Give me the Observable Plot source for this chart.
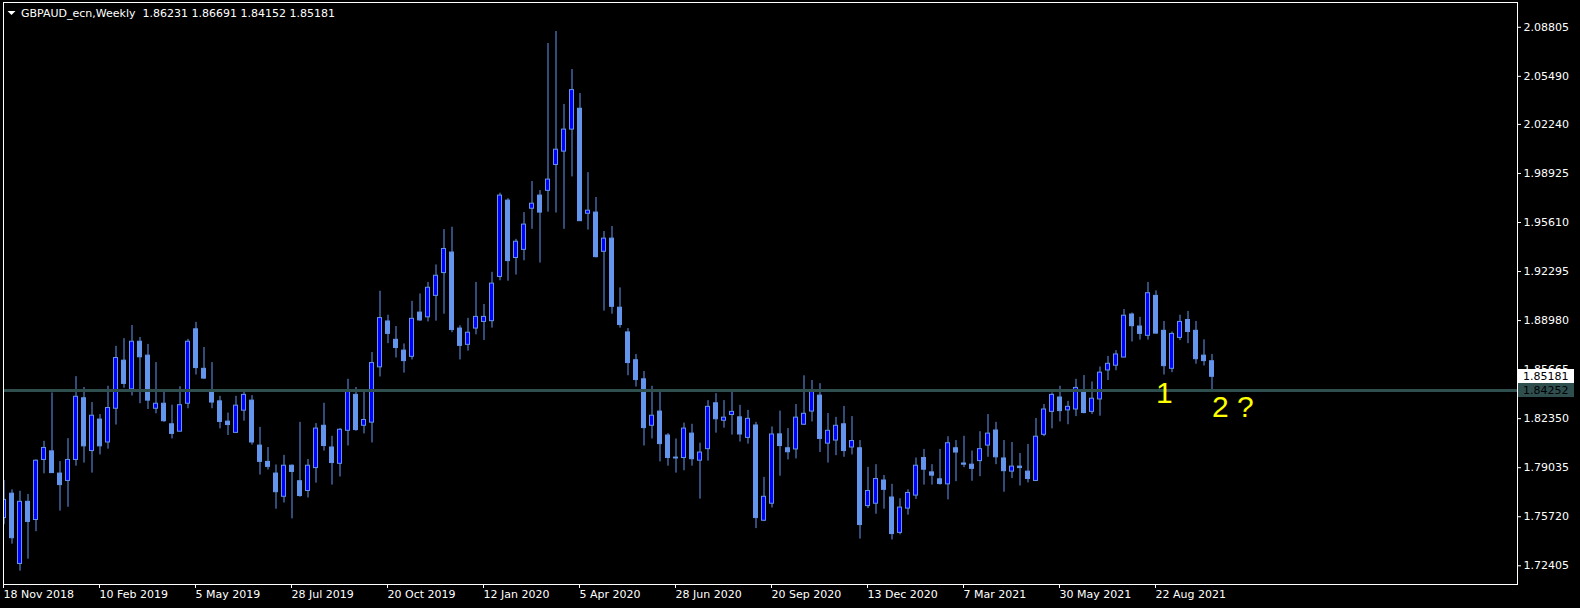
<!DOCTYPE html>
<html>
<head>
<meta charset="utf-8">
<script src="https://cdn.jsdelivr.net/npm/d3@7"></script>
<script src="https://cdn.jsdelivr.net/npm/@observablehq/plot@0.6"></script>
<style>
html, body { margin: 0; padding: 0; background: #000; }
svg text { white-space: pre; }
</style>
</head>
<body>
<div id="chart"></div>
<script>
// ---------------- data ----------------
const symbolName = "GBPAUD_ecn";
const timeframe = "Weekly";
const firstWeek = "2018-11-18"; // weekly bars, one per week from this date

const openP = [
1.7563,1.7728,1.7253,1.7673,1.7550,1.7956,1.8014,1.7864,1.7814,1.7956,
1.8373,1.8016,1.8229,1.8074,1.8302,1.8627,1.8433,1.8755,1.8661,1.8302,
1.8336,1.8197,1.8147,1.8336,1.8839,1.8572,1.8412,1.8352,1.8215,1.8139,
1.8289,1.8357,1.8053,1.7943,1.7864,1.7707,1.7917,1.7812,1.7746,1.7901,
1.8187,1.8040,1.7930,1.8153,1.8396,1.8187,1.8208,1.8582,1.8892,1.8768,
1.8695,1.8653,1.8952,1.8920,1.9065,1.9219,1.9358,1.8844,1.8734,1.8844,
1.8889,1.8894,1.9193,1.9709,1.9321,1.9376,1.9654,1.9743,1.9775,1.9950,
2.0040,2.0189,2.0330,1.9620,1.9628,1.9363,1.9452,1.8985,1.8818,1.8630,
1.8501,1.8187,1.8283,1.8121,1.7972,1.7969,1.8134,1.7951,1.8029,1.8339,
1.8221,1.8260,1.8244,1.8105,1.8189,1.7545,1.7660,1.8129,1.8035,1.8027,
1.8194,1.8283,1.8391,1.8066,1.8087,1.8197,1.8040,1.8035,1.7644,1.7660,
1.7817,1.7702,1.7463,1.7627,1.7715,1.7969,1.7872,1.7825,1.7791,1.8035,
1.7932,1.7924,1.7948,1.8053,1.8155,1.7966,1.7877,1.7911,1.7877,1.7814,
1.8126,1.8281,1.8378,1.8291,1.8297,1.8412,1.8281,1.8365,1.8561,1.8593,
1.8648,1.8939,1.8858,1.8795,1.9065,1.8829,1.8572,1.8781,1.8902,1.8829,
1.8661,1.86231];
const highP = [
1.7817,1.7754,1.7744,1.7723,1.7956,1.8082,1.8409,1.7945,1.8100,1.8519,
1.8446,1.8344,1.8263,1.8454,1.8724,1.8776,1.8865,1.8784,1.8737,1.8614,
1.8415,1.8326,1.8451,1.8771,1.8886,1.8716,1.8614,1.8386,1.8273,1.8386,
1.8412,1.8391,1.8176,1.8040,1.7922,1.7987,1.7922,1.8210,1.7959,1.8202,
1.8339,1.8116,1.8168,1.8501,1.8446,1.8415,1.8682,1.9096,1.8934,1.8858,
1.8740,1.9028,1.9078,1.9156,1.9274,1.9513,1.9529,1.8863,1.8913,1.9156,
1.9007,1.9224,1.9759,1.9722,1.9447,1.9628,1.9838,1.9777,2.0771,2.0852,
2.0359,2.0595,2.0433,1.9898,1.9730,1.9500,1.9534,1.9119,1.8844,1.8669,
1.8554,1.8454,1.8412,1.8134,1.8098,1.8205,1.8197,1.8069,1.8357,1.8404,
1.8357,1.8415,1.8325,1.8291,1.8210,1.7838,1.8179,1.8286,1.8168,1.8331,
1.8525,1.8493,1.8472,1.8270,1.8244,1.8318,1.8249,1.8087,1.7906,1.7924,
1.7851,1.7791,1.7694,1.7754,1.7969,1.8027,1.7924,1.8027,1.8113,1.8087,
1.8116,1.8016,1.8147,1.8263,1.8210,1.8087,1.8074,1.8000,1.8061,1.8236,
1.8331,1.8409,1.8454,1.8352,1.8501,1.8527,1.8483,1.8584,1.8656,1.8695,
1.8973,1.8949,1.8920,1.9156,1.9099,1.8892,1.8821,1.8934,1.8960,1.8892,
1.8768,1.86691];
const lowP = [
1.7518,1.7387,1.7204,1.7285,1.7471,1.7862,1.7867,1.7610,1.7636,1.7914,
1.7935,1.7867,1.7990,1.8029,1.8192,1.8441,1.8388,1.8336,1.8297,1.8268,
1.8210,1.8098,1.8147,1.8302,1.8530,1.8501,1.8302,1.8166,1.8121,1.8139,
1.8218,1.8056,1.7854,1.7888,1.7623,1.7665,1.7558,1.7704,1.7699,1.7799,
1.8016,1.7786,1.7841,1.8050,1.8150,1.8132,1.8071,1.8517,1.8742,1.8645,
1.8543,1.8632,1.8892,1.8889,1.8894,1.8941,1.8816,1.8632,1.8692,1.8802,
1.8763,1.8847,1.9167,1.9164,1.9206,1.9302,1.9515,1.9287,1.9631,1.9625,
1.9515,1.9869,1.9570,1.9510,1.9321,1.8962,1.8941,1.8847,1.8525,1.8449,
1.8050,1.8098,1.7943,1.7914,1.7867,1.7883,1.7914,1.7691,1.7948,1.8137,
1.8171,1.8124,1.8077,1.8063,1.7492,1.7539,1.7631,1.7846,1.7956,1.7963,
1.8189,1.8213,1.8006,1.7935,1.7985,1.7974,1.7990,1.7421,1.7627,1.7589,
1.7623,1.7415,1.7450,1.7583,1.7689,1.7786,1.7786,1.7786,1.7686,1.7809,
1.7904,1.7812,1.7843,1.7974,1.7924,1.7738,1.7830,1.7780,1.7801,1.7812,
1.8113,1.8166,1.8213,1.8194,1.8249,1.8268,1.8263,1.8252,1.8493,1.8559,
1.8648,1.8753,1.8766,1.8766,1.8808,1.8530,1.8546,1.8763,1.8742,1.8603,
1.8591,1.84152];
const closeP = [
1.7686,1.7427,1.7673,1.7537,1.7951,1.8037,1.7867,1.7786,1.7956,1.8383,
1.8048,1.8255,1.8048,1.8307,1.8645,1.8470,1.8755,1.8650,1.8357,1.8336,
1.8218,1.8132,1.8326,1.8755,1.8577,1.8506,1.8344,1.8213,1.8192,1.8323,
1.8396,1.8074,1.7943,1.7909,1.7738,1.7917,1.7875,1.7712,1.7917,1.8168,
1.8050,1.7935,1.8160,1.8415,1.8158,1.8226,1.8611,1.8915,1.8808,1.8713,
1.8624,1.8910,1.8899,1.9120,1.9201,1.9382,1.8834,1.8727,1.8816,1.8923,
1.8923,1.9148,1.9743,1.9300,1.9431,1.9547,1.9688,1.9628,1.9851,2.0053,
2.0189,2.0456,1.9570,1.9641,1.9327,1.9452,1.8991,1.8868,1.8611,1.8496,
1.8171,1.8255,1.8063,1.7969,1.7966,1.8168,1.7961,1.8006,1.8315,1.8231,
1.8242,1.8281,1.8128,1.8234,1.7563,1.7707,1.8128,1.8050,1.8008,1.8242,
1.8268,1.8415,1.8098,1.8153,1.8187,1.8016,1.8084,1.7516,1.7746,1.7827,
1.7754,1.7455,1.7634,1.7733,1.7917,1.7890,1.7850,1.7793,1.8069,1.8006,
1.7924,1.7896,1.8029,1.8134,1.7974,1.7880,1.7911,1.7901,1.7827,1.8113,
1.8297,1.8396,1.8286,1.8315,1.8443,1.8273,1.8370,1.8546,1.8606,1.8669,
1.8931,1.8860,1.8808,1.9083,1.8810,1.8590,1.8808,1.8889,1.8821,1.8637,
1.8624,1.85181];

const priceTicks = [2.08805,2.05490,2.02240,1.98925,1.95610,1.92295,1.88980,1.85665,1.82350,1.79035,1.75720,1.72405];
const dateTicks = ["2018-11-18","2019-02-10","2019-05-05","2019-07-28","2019-10-20","2020-01-12",
                   "2020-04-05","2020-06-28","2020-09-20","2020-12-13","2021-03-07","2021-05-30","2021-08-22"];
const levelPrice = 1.84252;
const annotationLabels = ["1", "2 ?"];
const annotationDates = ["2021-08-22", "2021-10-10"];
const annotationPrices = [1.8405, 1.8314];

// ---------------- layout ----------------
const W = 1580, H = 608;
const frameL = 3, frameR = 1517, frameT = 2, frameB = 584;
const firstCenter = 3.5, pxPerWeek = 8;
const dayMs = 864e5;
const t0 = Date.parse(firstWeek);
const msPerPx = 7 * dayMs / pxPerWeek;
const halfBody = 2 * msPerPx;
const xDomain = [new Date(t0 - (firstCenter - frameL) * msPerPx), new Date(t0 + (frameR - firstCenter) * msPerPx)];
const yDomain = [1.71141, 2.10481];

const bullFill = "#0000FF", bearFill = "#6495ED", wickColor = "#6495ED";
const levelColor = "#2F4F4F";

const candles = openP.map((o, i) => ({
  date: new Date(t0 + i * 7 * dayMs), open: o, high: highP[i], low: lowP[i], close: closeP[i]
}));
const last = candles[candles.length - 1];
const f5 = d3.format(".5f");
const headerText = `${symbolName},${timeframe}  ${f5(last.open)} ${f5(last.high)} ${f5(last.low)} ${f5(last.close)}`;
const annots = annotationLabels.map((t, i) => ({label: t, date: new Date(annotationDates[i]), price: annotationPrices[i]}));
const tagValues = [last.close, levelPrice];
const tagBg = ["#FFFFFF", levelColor];

const flatDown = {
  draw(ctx, size) {
    const r = Math.sqrt(size / Math.PI);
    ctx.moveTo(-r, -r / 2); ctx.lineTo(r, -r / 2); ctx.lineTo(0, r / 2); ctx.closePath();
  }
};

const svg = Plot.plot({
  width: W, height: H,
  marginLeft: frameL, marginRight: W - frameR, marginTop: frameT, marginBottom: H - frameB,
  style: {background: "#000", color: "#fff", fontFamily: "DejaVu Sans", fontSize: "11px"},
  x: {type: "utc", domain: xDomain},
  y: {type: "linear", domain: yDomain},
  color: {type: "identity"},
  marks: [
    Plot.ruleX(candles, {x: "date", y1: "low", y2: "high", stroke: wickColor, strokeWidth: 1, clip: true}),
    Plot.rect(candles, {
      x1: d => new Date(+d.date - halfBody), x2: d => new Date(+d.date + halfBody),
      y1: "open", y2: "close",
      fill: d => d.close > d.open ? bullFill : bearFill,
      stroke: wickColor, strokeWidth: 1, clip: true
    }),
    Plot.ruleY([levelPrice], {stroke: levelColor, strokeWidth: 3}),
    Plot.frame({stroke: "#fff"}),
    Plot.axisY(priceTicks, {anchor: "right", tickSize: 3, tickPadding: 3, tickFormat: f5, stroke: "#fff", fill: "#fff"}),
    Plot.axisX(dateTicks.map(d => new Date(d)), {anchor: "bottom", tickSize: 4, tickPadding: 2, textAnchor: "start", dx: -0.5,
      tickFormat: d3.utcFormat("%-d %b %Y"), stroke: "#fff", fill: "#fff"}),
    Plot.text([headerText], {frameAnchor: "top-left", dx: 17.5, dy: 10.8, textAnchor: "start", lineAnchor: "middle", fill: "#fff"}),
    Plot.dot([0], {frameAnchor: "top-left", dx: 8, dy: 10.5, symbol: flatDown, r: 4, fill: "#fff", stroke: null}),
    Plot.text(annots, {x: "date", y: "price", text: "label", textAnchor: "start", lineAnchor: "middle",
      fill: "#FFFF00", fontFamily: "Liberation Sans", fontSize: 30}),
    // price tags on the right scale: box + label, positioned through the y scale
    (index, scales, values, dims) => {
      const g = d3.create("svg:g");
      tagValues.forEach((v, i) => {
        const yc = Math.round(scales.y(v));
        const x0 = dims.width - dims.marginRight + 1;
        g.append("rect").attr("x", x0).attr("y", yc - 7).attr("width", 56).attr("height", 14).attr("fill", tagBg[i]);
        g.append("text").attr("x", x0 + 5).attr("y", yc).attr("dy", "0.36em")
          .attr("text-anchor", "start").attr("fill", "#000")
          .attr("font-family", "DejaVu Sans").attr("font-size", 11).text(f5(v));
      });
      return g.node();
    }
  ]
});

document.getElementById("chart").appendChild(svg);
</script>
</body>
</html>
